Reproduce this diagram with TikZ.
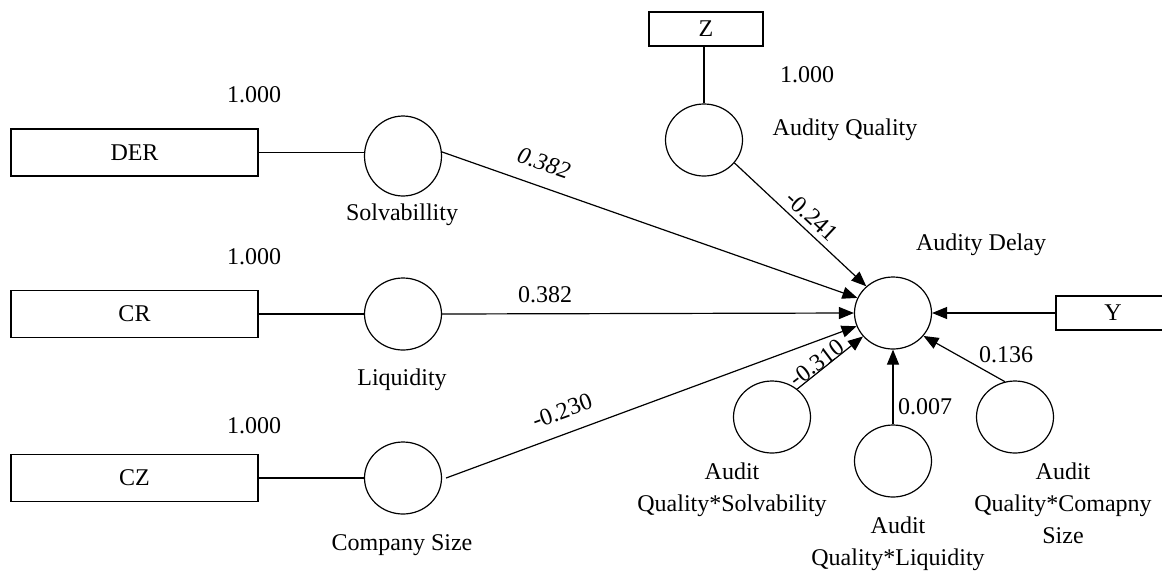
\documentclass[tikz,border=0pt]{standalone}
\usepackage{fontspec}
\setmainfont{Liberation Serif}
\usetikzlibrary{arrows.meta}
\tikzset{
  txt/.style={font=\fontsize{12}{16}\selectfont, inner sep=0pt, align=center},
  ind/.style={draw, line width=0.6pt, rectangle, minimum width=123.5pt, minimum height=23.5pt, inner sep=0pt, font=\fontsize{12}{16}\selectfont},
  sind/.style={draw, line width=0.6pt, rectangle, minimum width=57pt, minimum height=17pt, inner sep=0pt, font=\fontsize{12}{16}\selectfont},
  lat/.style={draw, line width=0.6pt, ellipse, minimum width=38.5pt, minimum height=36pt, inner sep=0pt},
  link/.style={line width=0.6pt},
  path/.style={line width=0.6pt, -{Triangle[length=7.5pt,width=6pt]}},
}
\usetikzlibrary{shapes.geometric}
\begin{document}
\begin{tikzpicture}[x=0.5pt,y=-0.5pt]
\useasboundingbox (0,0) rectangle (1162,574);
% indicators
\node[ind] (der) at (134.5,152.5) {DER};
\node[ind] (cr) at (134.5,314) {CR};
\node[ind] (cz) at (134.5,478) {CZ};
\node[sind] (z) at (706,29) {Z};
\node[sind] (y) at (1113,313) {Y};
% latent
\node[lat, minimum height=40pt] (solv) at (403,156) {};
\node[lat] (liq) at (403,314) {};
\node[lat] (cs) at (403,478) {};
\node[lat] (aq) at (704,140) {};
\node[lat] (delay) at (893,313) {};
\node[lat] (aqs) at (772,417) {};
\node[lat] (aql) at (893,461) {};
\node[lat] (aqc) at (1015,417) {};
% latent labels
\node[txt] (lsolv) at (402,215) {Solvabillity};
\node[txt] (lliq) at (402,380) {Liquidity};
\node[txt] (lcs) at (402,545) {Company Size};
\node[txt] (laq) at (845,130) {Audity Quality};
\node[txt] (ldelay) at (981,245) {Audity Delay};
\node[txt] (laqs) at (732,490) {Audit\\Quality*Solvability};
\node[txt] (laql) at (898,544) {Audit\\Quality*Liquidity};
\node[txt] (laqc) at (1063,503) {Audit\\Quality*Comapny\\Size};
% loadings
\node[txt] (w1) at (254,95) {1.000};
\node[txt] (w2) at (254,257) {1.000};
\node[txt] (w3) at (254,426) {1.000};
\node[txt] (w4) at (807,75) {1.000};
% measurement links
\draw[link] (der.east) -- (der.east -| solv.west);
\draw[link] (cr.east) -- (liq.west);
\draw[link] (cz.east) -- (cs.west);
\draw[link] (aq.north) -- (aq.north |- z.south);
% structural paths
\draw[path] (solv.6) -- (delay.157);
\draw[path] (liq.east) -- (delay.west);
\draw[path] ([xshift=2pt]cs.east) -- (delay.200);
\draw[path] (aq.-37) -- (delay.135);
\draw[path] (aqs.48) -- (delay.218);
\draw[path] (aql.north) -- (delay.south);
\draw[path] (aqc.106) -- (delay.-37);
\draw[path] (y.west) -- (delay.east);
% path coefficients
\node[txt, rotate=-19] (c1) at (544,163) {\itshape 0.382};
\node[txt] (c2) at (545,295) {0.382};
\node[txt, rotate=20] (c3) at (562,411) {-0.230};
\node[txt, rotate=-43] (c4) at (812,216) {-0.241};
\node[txt, rotate=37] (c5) at (817,363) {-0.310};
\node[txt] (c6) at (925,407) {0.007};
\node[txt] (c7) at (1006,355) {0.136};
\end{tikzpicture}
\end{document}
